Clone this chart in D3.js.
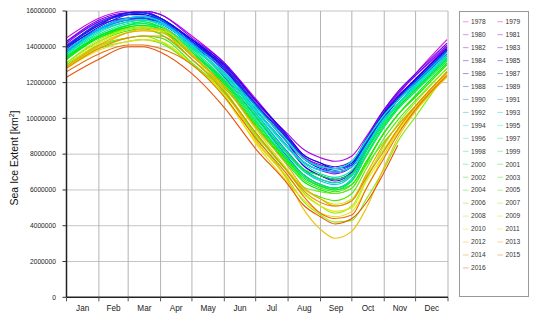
<!DOCTYPE html>
<html>
<head>
<meta charset="utf-8">
<script src="https://cdn.jsdelivr.net/npm/d3@7"></script>
<style>
  html, body { margin: 0; padding: 0; background: #fff; }
  svg { display: block; font-family: "Liberation Sans", Arial, Helvetica, sans-serif; }
</style>
</head>
<body>
<svg id="chart" width="538" height="323"></svg>
<script>
// ---- data ----
const MONTHS = ["Jan","Feb","Mar","Apr","May","Jun","Jul","Aug","Sep","Oct","Nov","Dec"];
const MONTH_STARTS = [0,31,59,90,120,151,181,212,243,273,304,334,365];
const Y_TICKS = [0,2000000,4000000,6000000,8000000,10000000,12000000,14000000,16000000];
// day of year (0 = Jan 1) of each sample
const DAYS = [0,31,59,73,90,120,151,181,212,226,243,257,273,287,304,317,334,364];
// extent in million km², one array per year
const Y1978 = [null,null,null,null,null,null,null,null,null,null,null,null,null,null,10.4,11.3,12.5,14.4];
const Y1979 = [14.5,15.6,16.0,16.0,15.8,14.6,13.1,11.1,8.9,7.9,7.3,7.0,7.3,8.6,10.2,11.1,12.2,14.0];
const Y1980 = [14.3,15.4,15.9,16.0,15.6,14.4,13.0,10.9,9.1,8.3,7.8,7.6,7.9,9.0,10.5,11.4,12.4,14.0];
const Y1981 = [14.1,15.2,15.6,15.6,15.3,14.2,12.9,10.7,8.6,7.6,7.1,6.9,7.3,8.6,10.3,11.2,12.2,14.0];
const Y1982 = [14.2,15.4,15.9,16.0,15.8,14.5,13.1,11.0,8.9,7.9,7.4,7.2,7.4,8.8,10.4,11.4,12.4,14.1];
const Y1983 = [14.3,15.5,15.9,15.9,15.6,14.3,12.9,10.8,8.9,8.0,7.5,7.3,7.6,8.9,10.5,11.5,12.5,14.2];
const Y1984 = [14.0,15.0,15.5,15.6,15.3,14.1,12.7,10.7,8.6,7.4,6.8,6.5,7.0,8.3,10.0,11.0,12.0,13.9];
const Y1985 = [14.0,15.2,15.9,15.9,15.6,14.4,12.8,10.5,8.4,7.4,6.8,6.6,7.0,8.5,10.1,11.0,12.0,13.8];
const Y1986 = [14.0,15.3,15.8,15.8,15.5,14.4,13.0,11.0,9.0,8.0,7.5,7.2,7.5,8.8,10.3,11.2,12.2,13.9];
const Y1987 = [13.9,15.1,15.8,15.9,15.6,14.3,12.8,10.8,8.8,7.8,7.2,7.0,7.3,8.6,10.3,11.2,12.1,13.8];
const Y1988 = [14.0,15.3,15.8,15.9,15.5,14.2,12.8,10.8,8.8,7.8,7.3,7.1,7.4,8.7,10.2,11.1,12.1,13.8];
const Y1989 = [13.8,15.0,15.6,15.6,15.4,14.0,12.5,10.5,8.4,7.6,7.1,7.0,7.3,8.5,10.1,11.0,12.0,13.8];
const Y1990 = [13.7,15.0,15.6,15.7,15.5,14.1,12.3,10.1,7.8,6.9,6.3,6.1,6.6,8.2,9.9,10.8,11.9,13.6];
const Y1991 = [13.8,14.9,15.4,15.5,15.3,14.1,12.4,10.3,8.1,7.2,6.6,6.4,6.9,8.3,9.9,10.8,11.8,13.5];
const Y1992 = [13.7,14.9,15.5,15.5,15.3,14.2,12.6,10.7,8.6,7.8,7.3,7.2,7.6,8.8,10.2,11.0,12.0,13.7];
const Y1993 = [13.8,15.0,15.6,15.7,15.4,14.0,12.4,10.3,8.0,7.1,6.5,6.3,6.8,8.3,9.9,10.8,11.8,13.5];
const Y1994 = [13.6,14.9,15.4,15.5,15.3,14.1,12.4,10.5,8.4,7.6,7.1,7.0,7.3,8.5,10.0,10.8,11.8,13.5];
const Y1995 = [13.5,14.6,15.2,15.3,15.0,13.7,12.0,10.0,7.7,6.8,6.2,6.1,6.6,8.0,9.6,10.6,11.6,13.3];
const Y1996 = [13.3,14.5,15.0,15.1,14.9,13.9,12.5,10.6,8.7,7.8,7.3,7.2,7.6,8.8,10.2,11.0,11.9,13.5];
const Y1997 = [13.6,14.7,15.3,15.4,15.1,14.0,12.4,10.4,8.3,7.5,6.9,6.7,7.1,8.4,9.9,10.8,11.7,13.4];
const Y1998 = [13.6,14.8,15.4,15.5,15.2,13.9,12.2,10.2,7.9,7.1,6.6,6.4,6.8,8.2,9.8,10.7,11.7,13.4];
const Y1999 = [13.5,14.6,15.2,15.3,15.1,13.8,12.1,9.9,7.6,6.8,6.2,6.0,6.5,8.0,9.6,10.6,11.6,13.3];
const Y2000 = [13.4,14.5,15.0,15.1,14.9,13.6,12.0,9.8,7.7,6.9,6.3,6.1,6.5,7.9,9.5,10.5,11.5,13.2];
const Y2001 = [13.3,14.6,15.2,15.4,15.1,13.7,12.1,10.1,8.0,7.2,6.8,6.6,6.9,8.2,9.7,10.6,11.6,13.3];
const Y2002 = [13.4,14.6,15.1,15.2,15.0,13.5,11.8,9.6,7.4,6.5,6.0,5.8,6.1,7.5,9.2,10.2,11.3,13.1];
const Y2003 = [13.3,14.5,15.1,15.2,15.0,13.5,11.9,9.7,7.6,6.7,6.2,6.0,6.3,7.6,9.2,10.2,11.2,13.0];
const Y2004 = [13.1,14.3,14.9,15.0,14.7,13.3,11.7,9.6,7.5,6.6,6.1,5.9,6.3,7.6,9.2,10.2,11.2,13.0];
const Y2005 = [13.0,14.1,14.5,14.6,14.5,13.1,11.5,9.2,7.0,6.1,5.6,5.4,5.8,7.2,8.9,9.9,11.0,12.8];
const Y2006 = [12.9,13.9,14.3,14.4,14.2,13.0,11.4,9.1,7.0,6.2,5.9,5.8,6.1,7.4,8.7,9.6,10.7,12.6];
const Y2007 = [12.9,14.0,14.5,14.6,14.3,13.0,11.5,9.0,6.6,5.4,4.6,4.2,4.3,5.5,7.2,8.7,10.1,12.6];
const Y2008 = [13.1,14.4,15.0,15.1,14.9,13.3,11.6,9.1,7.0,5.9,5.1,4.7,5.1,6.6,8.5,9.7,10.9,12.8];
const Y2009 = [13.1,14.3,15.0,15.1,14.9,13.5,11.8,9.4,7.1,6.1,5.5,5.2,5.5,6.8,8.3,9.4,10.6,12.6];
const Y2010 = [12.9,14.2,14.8,14.9,14.9,13.6,11.2,8.7,6.7,5.8,5.1,4.8,5.0,6.5,8.0,9.2,10.4,12.4];
const Y2011 = [12.8,13.8,14.3,14.4,14.3,13.0,11.3,8.6,6.4,5.5,4.7,4.5,4.8,6.1,8.0,9.3,10.5,12.5];
const Y2012 = [12.9,14.0,14.8,15.0,15.0,13.6,11.6,8.8,6.5,5.0,3.8,3.3,3.7,5.0,7.3,8.9,10.4,12.3];
const Y2013 = [12.9,14.1,14.8,14.9,14.8,13.5,11.8,9.5,7.3,6.2,5.5,5.1,5.4,6.9,8.6,9.6,10.7,12.6];
const Y2014 = [12.8,13.9,14.5,14.6,14.6,13.3,11.5,9.2,7.0,6.0,5.3,5.1,5.4,6.7,8.2,9.4,10.7,12.6];
const Y2015 = [12.6,13.6,14.1,14.1,13.9,13.0,11.2,8.9,6.8,5.7,4.7,4.4,4.6,6.1,7.8,9.1,10.5,12.4];
const Y2016 = [12.3,13.3,14.0,14.0,13.7,12.5,10.6,8.3,6.3,5.2,4.5,4.1,4.4,5.3,7.0,8.5,null,null];

const YEARS = [1978,1979,1980,1981,1982,1983,1984,1985,1986,1987,1988,1989,1990,1991,1992,1993,1994,1995,1996,1997,1998,1999,2000,2001,2002,2003,2004,2005,2006,2007,2008,2009,2010,2011,2012,2013,2014,2015,2016];
const SERIES = [Y1978,Y1979,Y1980,Y1981,Y1982,Y1983,Y1984,Y1985,Y1986,Y1987,Y1988,Y1989,Y1990,Y1991,Y1992,Y1993,Y1994,Y1995,Y1996,Y1997,Y1998,Y1999,Y2000,Y2001,Y2002,Y2003,Y2004,Y2005,Y2006,Y2007,Y2008,Y2009,Y2010,Y2011,Y2012,Y2013,Y2014,Y2015,Y2016];

// ---- layout ----
const svg = d3.select("#chart");
const X0 = 66.5, X1 = 448, Y0 = 297.3, Y1 = 11;
const x = d3.scaleLinear().domain([0, 365]).range([X0, X1]);
const y = d3.scaleLinear().domain([0, 16000000]).range([Y0, Y1]);
const color = d3.scaleLinear().domain([1978, 2016]).range([300, 20]);
const lineColor = yr => d3.hsl(color(yr), 0.95, 0.47).toString();

// grid
svg.append("g").selectAll("line").data(Y_TICKS.filter(d => d > 0)).join("line")
  .attr("x1", X0).attr("x2", X1).attr("y1", d => y(d)).attr("y2", d => y(d))
  .attr("stroke", "#c4c4c4").attr("stroke-width", 1);
svg.append("g").selectAll("line").data(MONTH_STARTS.slice(1)).join("line")
  .attr("x1", d => x(d)).attr("x2", d => x(d)).attr("y1", Y1).attr("y2", Y0)
  .attr("stroke", "#b4b4b4").attr("stroke-width", 1);

// lines
svg.append("clipPath").attr("id", "clip").append("rect")
  .attr("x", X0).attr("y", Y1).attr("width", X1 - X0).attr("height", Y0 - Y1);
const line = d3.line()
  .defined(d => d[1] != null)
  .x(d => x(d[0]))
  .y(d => y(d[1] * 1e6))
  .curve(d3.curveMonotoneX);
svg.append("g").attr("clip-path", "url(#clip)").selectAll("path")
  .data(YEARS.map((yr, i) => ({ yr, pts: DAYS.map((d, j) => [d, SERIES[i][j]]) })))
  .join("path")
  .attr("d", s => line(s.pts))
  .attr("fill", "none")
  .attr("stroke", s => lineColor(s.yr))
  .attr("stroke-width", 1.1);

// axes
svg.append("line").attr("x1", X0).attr("x2", X0).attr("y1", Y1).attr("y2", Y0)
  .attr("stroke", "#222").attr("stroke-width", 1.5);
svg.append("line").attr("x1", X0).attr("x2", X1).attr("y1", Y0).attr("y2", Y0)
  .attr("stroke", "#222").attr("stroke-width", 1.5);

// y ticks + labels
const yt = svg.append("g").selectAll("g").data(Y_TICKS).join("g");
yt.append("line").attr("x1", X0 - 4).attr("x2", X0).attr("y1", d => y(d)).attr("y2", d => y(d))
  .attr("stroke", "#333").attr("stroke-width", 1);
yt.append("text").attr("x", 56).attr("y", d => y(d)).attr("dy", "0.35em")
  .attr("text-anchor", "end").attr("font-size", 6.7).attr("fill", "#222")
  .text(d => d3.format("d")(d));

// x ticks + month labels
svg.append("g").selectAll("line").data(MONTH_STARTS).join("line")
  .attr("x1", d => x(d)).attr("x2", d => x(d)).attr("y1", Y0).attr("y2", Y0 + 4)
  .attr("stroke", "#555").attr("stroke-width", 1);
svg.append("g").selectAll("text").data(MONTHS).join("text")
  .attr("x", (m, i) => x((MONTH_STARTS[i] + MONTH_STARTS[i + 1]) / 2))
  .attr("y", 310.5).attr("text-anchor", "middle").attr("font-size", 8.2).attr("fill", "#222")
  .text(m => m);

// y title
const tt = svg.append("text").attr("transform", "translate(18,158) rotate(-90)")
  .attr("text-anchor", "middle").attr("font-size", 10.5).attr("fill", "#111");
tt.append("tspan").text("Sea Ice Extent [km");
tt.append("tspan").attr("font-size", 7).attr("dy", -4).text("2");
tt.append("tspan").attr("dy", 4).text("]");

// legend
svg.append("rect").attr("x", 459.5).attr("y", 11.5).attr("width", 69).attr("height", 285)
  .attr("fill", "#fff").attr("stroke", "#999").attr("stroke-width", 1);
const lg = svg.append("g").selectAll("g").data(YEARS).join("g")
  .attr("transform", (yr, i) => `translate(${i % 2 ? 497.5 : 463},${21.7 + Math.floor(i / 2) * 12.96})`);
lg.append("line").attr("x1", 0).attr("x2", 5.5).attr("y1", 0).attr("y2", 0)
  .attr("stroke", yr => lineColor(yr)).attr("stroke-opacity", 0.4).attr("stroke-width", 1.1);
lg.append("text").attr("x", 8).attr("y", 0).attr("dy", "0.35em")
  .attr("font-size", 6.6).attr("fill", "#333").text(yr => yr);
</script>
</body>
</html>
